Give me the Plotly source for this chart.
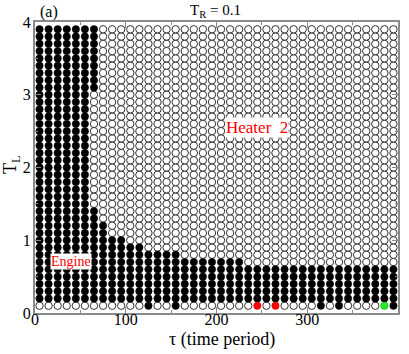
import plotly.graph_objects as go

# --- DATA ---
tau = [5, 15, 25, 35, 45, 55, 65, 75, 85, 95,
       105, 115, 125, 135, 145, 155, 165, 175, 185, 195,
       205, 215, 225, 235, 245, 255, 265, 275, 285, 295,
       305, 315, 325, 335, 345, 355, 365, 375, 385, 395]
t_l = [0.1, 0.2, 0.3, 0.4, 0.5, 0.6, 0.7, 0.8, 0.9, 1.0,
       1.1, 1.2, 1.3, 1.4, 1.5, 1.6, 1.7, 1.8, 1.9, 2.0,
       2.1, 2.2, 2.3, 2.4, 2.5, 2.6, 2.7, 2.8, 2.9, 3.0,
       3.1, 3.2, 3.3, 3.4, 3.5, 3.6, 3.7, 3.8, 3.9]

# highest T_L of the engine block (filled from 0.2 up to here), one per tau
engine_top = [3.9, 3.9, 3.9, 3.9, 3.9, 3.9, 1.4, 1.2, 1.0, 1.0,
              0.9, 0.9, 0.8, 0.8, 0.8, 0.8, 0.7, 0.7, 0.7, 0.7,
              0.7, 0.7, 0.7, 0.6, 0.6, 0.6, 0.6, 0.6, 0.6, 0.6,
              0.6, 0.6, 0.6, 0.6, 0.6, 0.6, 0.6, 0.6, 0.6, 0.6]
# extra engine block at the top of the tau=65 column
upper_tau = [65]
upper_low = [3.1]

# state of the lowest row (T_L = 0.1): o open, k black, r red, g green
bottom_row = ['o', 'o', 'o', 'o', 'o', 'o', 'o', 'o', 'o', 'o',
              'o', 'o', 'k', 'o', 'o', 'k', 'o', 'o', 'o', 'o',
              'o', 'o', 'o', 'o', 'r', 'o', 'r', 'o', 'o', 'o',
              'o', 'k', 'o', 'k', 'o', 'o', 'o', 'o', 'g', 'k']

xticks = [0, 100, 200, 300, 400]
yticks = [0, 1, 2, 3, 4]

# --- build point sets ---
pts = {'o': ([], []), 'k': ([], []), 'r': ([], []), 'g': ([], [])}
for i, x in enumerate(tau):
    for y in t_l:
        if y < 0.15:
            s = bottom_row[i]
        elif y <= engine_top[i] + 1e-9:
            s = 'k'
        elif x in upper_tau and y >= upper_low[upper_tau.index(x)] - 1e-9:
            s = 'k'
        else:
            s = 'o'
        pts[s][0].append(x)
        pts[s][1].append(y)

styles = {
    'o': dict(color='white', line=dict(color='#333333', width=1)),
    'k': dict(color='black', line=dict(color='black', width=0.5)),
    'r': dict(color='#ff0000', line=dict(color='#cc0000', width=0.5)),
    'g': dict(color='#22ee22', line=dict(color='#119911', width=0.5)),
}

fig = go.Figure()
for s in ['o', 'k', 'r', 'g']:
    fig.add_trace(go.Scatter(x=pts[s][0], y=pts[s][1], mode='markers',
                             marker=dict(symbol='circle', size=7.4, **styles[s]),
                             showlegend=False, hoverinfo='skip', cliponaxis=False))

SERIF = 'Liberation Serif, Times New Roman, serif'
axis_common = dict(showline=True, linecolor='#8a8a8a', linewidth=2, mirror='allticks',
                   ticks='inside', ticklen=6, tickwidth=1, tickcolor='#8a8a8a',
                   showgrid=False, zeroline=False, automargin=False,
                   tickfont=dict(family=SERIF, size=16, color='black'))
fig.update_xaxes(range=[0, 400], tickvals=xticks, ticklabelstandoff=-9,
                 minor=dict(dtick=50, ticks='inside', ticklen=3, tickcolor='#8a8a8a'),
                 **axis_common)
fig.update_yaxes(range=[0, 4], tickvals=yticks, ticklabelstandoff=-1,
                 minor=dict(dtick=0.5, ticks='inside', ticklen=3, tickcolor='#8a8a8a'),
                 **axis_common)

L, R, T, B, W, H = 35, 11, 22, 41, 409, 354


def px_x(px):
    return (px - L) / (W - L - R)


def px_y(py):
    return 1 - (py - T) / (H - T - B)


fig.update_layout(
    width=W, height=H,
    margin=dict(l=L, r=R, t=T, b=B),
    plot_bgcolor='white', paper_bgcolor='white',
    font=dict(family=SERIF, color='black'),
    annotations=[
        dict(text='(a)', x=px_x(38), y=px_y(12), xref='paper', yref='paper', showarrow=False,
             font=dict(size=16), xanchor='left', yanchor='middle'),
        dict(text='T<sub>R</sub> = 0.1', x=px_x(215), y=px_y(11), xref='paper', yref='paper',
             showarrow=False, font=dict(size=15), xanchor='center', yanchor='middle'),
        dict(text='\u03c4 (time period)', x=px_x(222), y=px_y(339), xref='paper', yref='paper',
             showarrow=False, font=dict(size=18), xanchor='center', yanchor='middle'),
        dict(text='T<sub>L</sub>', x=px_x(11), y=px_y(165), xref='paper', yref='paper',
             showarrow=False, textangle=-90, font=dict(size=18),
             xanchor='center', yanchor='middle'),
        dict(text='Heater\u00a0\u00a02', x=245, y=2.55, xref='x', yref='y', showarrow=False,
             font=dict(size=17, color='#ff0000'), bgcolor='white', borderpad=0),
        dict(text='Engine', x=40, y=0.71, xref='x', yref='y', showarrow=False,
             font=dict(size=14, color='#ff0000'), bgcolor='white', borderpad=0),
    ],
)

# page body has a default 8px margin; drop it so the figure sits at the window origin
fig.write_html("out.html", config={'displayModeBar': False},
               post_script="document.body.style.margin='0';")
